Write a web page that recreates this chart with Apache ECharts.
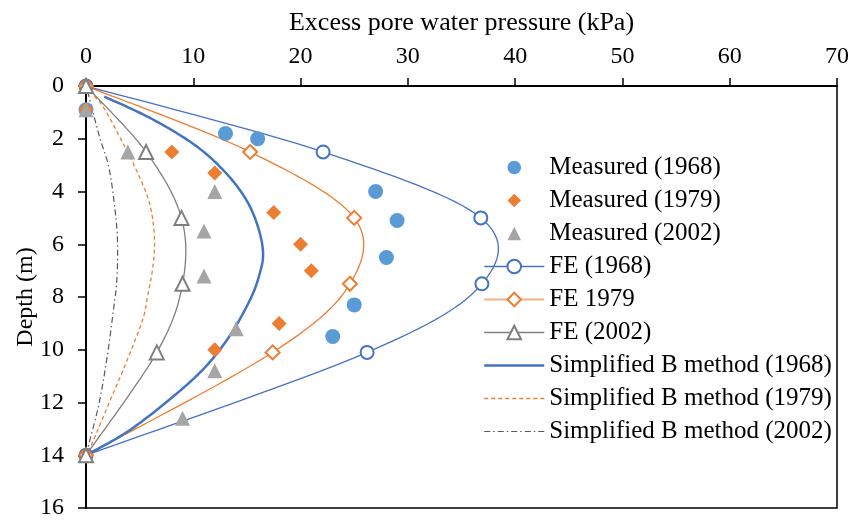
<!DOCTYPE html>
<html>
<head>
<meta charset="utf-8">
<script src="https://cdn.jsdelivr.net/npm/echarts@6/dist/echarts.min.js"></script>
<style>
  html, body { margin: 0; padding: 0; background: #fff; }
  #chart { width: 855px; height: 527px; }
</style>
</head>
<body>
<div id="chart"></div>
<script>
// [pressure kPa, depth m]
var measured1968 = [[0, 0.9], [13, 1.8], [16, 2.0], [27, 4.0], [29, 5.1], [28, 6.5], [25, 8.3], [23, 9.5]]
var measured1979 = [[0, 0.9], [8, 2.5], [12, 3.3], [17.5, 4.8], [20, 6.0], [21, 7.0], [18, 9.0], [12, 10.0]]
var measured2002 = [[0, 0.9], [3.9, 2.5], [12, 4.0], [11, 5.5], [11, 7.2], [14, 9.2], [12, 10.8], [9, 12.6], [0, 14]]

var fe1968 = [[0, 0], [22.1, 2.5], [36.8, 5.0], [36.9, 7.5], [26.2, 10.1], [0, 14]]
var fe1979 = [[0, 0], [15.3, 2.5], [25, 5.0], [24.6, 7.5], [17.4, 10.1], [0, 14]]
var fe2002 = [[0, 0], [5.6, 2.5], [8.9, 5.0], [9.0, 7.5], [6.6, 10.1], [0, 14]]

var simB1968 = [[1.7, 0.4], [6.2, 1.26], [10.25, 2.27], [13.0, 3.28], [14.9, 4.29], [16.0, 5.3], [16.5, 6.3],
  [16.2, 7.1], [15.3, 8.1], [13.35, 9.5], [10.9, 10.75], [7.45, 12.0], [3.7, 13.15], [0, 14]]
var simB1979 = [[0.3, 0.2], [1.55, 0.76], [3.1, 1.9], [4.66, 3.16], [5.9, 4.42], [6.37, 5.68], [6.25, 6.8],
  [5.75, 7.95], [5.28, 8.86], [3.73, 10.5], [2.17, 12.0], [0.62, 13.5], [0, 14]]
var simB2002 = [[0.15, 0.2], [1.24, 1.9], [2.17, 3.16], [2.8, 5.05], [2.95, 6.3], [2.85, 7.5], [2.64, 8.23],
  [2.02, 10.13], [1.24, 12.0], [0.31, 13.5], [0, 14]]

var xTicks = { min: 0, max: 70, step: 10 }
var yTicks = { min: 0, max: 16, step: 2 }

var font = 'Liberation Serif, Times New Roman, serif'
var blue = '#4472C4'
var lightBlue = '#5B9BD5'
var orange = '#ED7D31'
var gray = '#A5A5A5'
var darkGray = '#7F7F7F'
var dashDotGray = '#595959'

var chart = echarts.init(document.getElementById('chart'))

// excel-like smooth curve: catmull-rom through the points, in pixel space
function curvePoints (data, api) {
  var p = data.map(function (d) { return api.coord(d) })
  var out = [p[0]]
  for (var i = 0; i < p.length - 1; i++) {
    var p0 = p[i - 1] || p[i]
    var p1 = p[i]
    var p2 = p[i + 1]
    var p3 = p[i + 2] || p[i + 1]
    var c1 = [p1[0] + (p2[0] - p0[0]) / 6, p1[1] + (p2[1] - p0[1]) / 6]
    var c2 = [p2[0] - (p3[0] - p1[0]) / 6, p2[1] - (p3[1] - p1[1]) / 6]
    for (var s = 1; s <= 16; s++) {
      var t = s / 16
      var u = 1 - t
      out.push([
        u * u * u * p1[0] + 3 * u * u * t * c1[0] + 3 * u * t * t * c2[0] + t * t * t * p2[0],
        u * u * u * p1[1] + 3 * u * u * t * c1[1] + 3 * u * t * t * c2[1] + t * t * t * p2[1]
      ])
    }
  }
  return out
}

function curve (data, color, width, dash) {
  return {
    type: 'custom',
    data: data,
    encode: { x: 0, y: 1 },
    silent: true,
    renderItem: function (params, api) {
      if (params.dataIndex !== 0) return null
      return {
        type: 'polyline',
        shape: { points: curvePoints(data, api) },
        style: { stroke: color, lineWidth: width, lineDash: dash, fill: null }
      }
    }
  }
}

// markers + legend entry; the visible curve comes from curve()
function marks (name, data, symbol, color, size) {
  return {
    name: name,
    type: 'line',
    data: data,
    symbol: symbol,
    symbolSize: size,
    showAllSymbol: true,
    clip: false,
    lineStyle: { color: color, opacity: 0 },
    itemStyle: { color: color, opacity: 1, borderWidth: 1.6 }
  }
}

function legendItem (name, color, width, type, showSymbol) {
  return {
    name: name,
    lineStyle: { color: color, width: width, type: type, opacity: width ? 1 : 0 },
    itemStyle: { opacity: showSymbol ? 1 : 0 }
  }
}

chart.setOption({
  animation: false,
  textStyle: { fontFamily: font, color: '#000' },
  grid: {
    left: 86,
    right: 18,
    top: 86,
    bottom: 19,
    outerBoundsMode: 'none',
    show: true,
    borderColor: '#000',
    borderWidth: 1.5
  },
  legend: {
    orient: 'vertical',
    left: 483,
    top: 155,
    padding: 0,
    itemWidth: 60,
    itemHeight: 17,
    itemGap: 8,
    textStyle: { fontFamily: font, fontSize: 25, color: '#000' },
    data: [
      legendItem('Measured (1968)', lightBlue, 0, 'solid', true),
      legendItem('Measured (1979)', orange, 0, 'solid', true),
      legendItem('Measured (2002)', gray, 0, 'solid', true),
      legendItem('FE (1968)', blue, 1.3, 'solid', true),
      legendItem('FE 1979', '#F4B183', 2, 'solid', true),
      legendItem('FE (2002)', darkGray, 1.3, 'solid', true),
      legendItem('Simplified B method (1968)', blue, 2.5, 'solid', false),
      legendItem('Simplified B method (1979)', orange, 1.3, [4, 3], false),
      legendItem('Simplified B method (2002)', dashDotGray, 1.2, [6, 3, 1.5, 3], false)
    ]
  },
  xAxis: {
    type: 'value',
    position: 'top',
    min: xTicks.min,
    max: xTicks.max,
    interval: xTicks.step,
    name: 'Excess pore water pressure (kPa)',
    nameLocation: 'middle',
    nameGap: 50,
    nameTextStyle: { fontFamily: font, fontSize: 26, color: '#000' },
    axisLine: { lineStyle: { color: '#000', width: 2 } },
    axisTick: { length: 8, lineStyle: { color: '#000', width: 1.5 } },
    axisLabel: { fontFamily: font, fontSize: 24, color: '#000', margin: 17 },
    splitLine: { show: false }
  },
  yAxis: {
    type: 'value',
    inverse: true,
    min: yTicks.min,
    max: yTicks.max,
    interval: yTicks.step,
    name: 'Depth (m)',
    nameLocation: 'middle',
    nameGap: 48,
    nameMoveOverlap: false,
    nameTextStyle: { fontFamily: font, fontSize: 24, color: '#000' },
    axisLine: { lineStyle: { color: '#000', width: 2 } },
    axisTick: { length: 8, lineStyle: { color: '#000', width: 1.5 } },
    axisLabel: { fontFamily: font, fontSize: 24, color: '#000', margin: 22 },
    splitLine: { show: false }
  },
  series: [
    marks('Measured (1968)', measured1968, 'circle', lightBlue, 15),
    marks('Measured (1979)', measured1979, 'diamond', orange, 15),
    marks('Measured (2002)', measured2002, 'triangle', gray, 15),
    curve(fe1968, blue, 1.3),
    curve(fe1979, orange, 1.3),
    curve(fe2002, darkGray, 1.3),
    marks('FE (1968)', fe1968, 'emptyCircle', blue, 13),
    marks('FE 1979', fe1979, 'emptyDiamond', orange, 14),
    marks('FE (2002)', fe2002, 'emptyTriangle', darkGray, 14),
    curve(simB1968, blue, 2.5),
    curve(simB1979, orange, 1.3, [4, 3]),
    curve(simB2002, dashDotGray, 1.2, [6, 3, 1.5, 3]),
    marks('Simplified B method (1968)', [], 'none', blue, 0),
    marks('Simplified B method (1979)', [], 'none', orange, 0),
    marks('Simplified B method (2002)', [], 'none', dashDotGray, 0)
  ]
})
</script>
</body>
</html>
